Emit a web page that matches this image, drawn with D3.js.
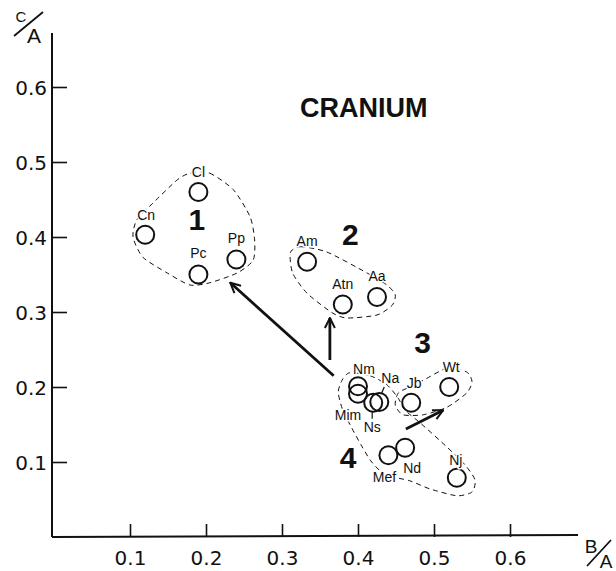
<!DOCTYPE html>
<html>
<head>
  <title>Cranium C/A vs B/A</title>
  <style>
    body { margin: 0; background: white; }
    svg { display: block; }
  </style>
</head>
<body>
  <svg width="616" height="571"></svg>

  <script src="https://d3js.org/d3.v7.min.js"></script>
  <script>
    // point data: B/A (x) and C/A (y)
    const names = ["Cn", "Cl", "Pc", "Pp", "Am", "Atn", "Aa", "Nm", "Mim", "Ns", "Na", "Jb", "Wt", "Mef", "Nd", "Nj"];
    const ba = [0.12, 0.19, 0.19, 0.24, 0.333, 0.38, 0.425, 0.40, 0.40, 0.42, 0.428, 0.47, 0.52, 0.44, 0.462, 0.53];
    const ca = [0.403, 0.46, 0.35, 0.37, 0.367, 0.31, 0.32, 0.201, 0.191, 0.179, 0.18, 0.179, 0.20, 0.109, 0.119, 0.079];
    const xTicks = [0.1, 0.2, 0.3, 0.4, 0.5, 0.6];
    const yTicks = [0.1, 0.2, 0.3, 0.4, 0.5, 0.6];

    // dashed group outlines, in data units
    const group1 = [[0.179,0.485],[0.205,0.485],[0.236,0.463],[0.258,0.427],[0.264,0.396],[0.262,0.369],[0.241,0.352],[0.205,0.339],[0.179,0.336],[0.149,0.352],[0.117,0.373],[0.104,0.40],[0.109,0.423],[0.130,0.445],[0.162,0.476]];
    const group2 = [[0.311,0.379],[0.324,0.387],[0.359,0.380],[0.412,0.352],[0.438,0.336],[0.449,0.323],[0.445,0.309],[0.425,0.296],[0.386,0.292],[0.366,0.299],[0.333,0.325],[0.314,0.352]];
    const group3 = [[0.486,0.209],[0.517,0.225],[0.543,0.220],[0.550,0.207],[0.543,0.192],[0.517,0.173],[0.486,0.163],[0.459,0.163],[0.449,0.176],[0.453,0.192],[0.468,0.200]];
    const group4 = [[0.389,0.219],[0.416,0.215],[0.438,0.203],[0.453,0.185],[0.462,0.169],[0.482,0.152],[0.517,0.120],[0.541,0.096],[0.554,0.076],[0.550,0.060],[0.530,0.055],[0.495,0.064],[0.468,0.075],[0.436,0.083],[0.418,0.100],[0.405,0.121],[0.392,0.145],[0.380,0.169],[0.374,0.193],[0.379,0.209]];
    const groupNames = ["1", "2", "3", "4"];
    const groupLabelAt = [[0.188, 0.41], [0.39, 0.39], [0.485, 0.245], [0.387, 0.092]];

    // arrows [from, to] in data units
    const arrows = [
      [[0.368, 0.215], [0.232, 0.339]],
      [[0.363, 0.236], [0.363, 0.292]],
      [[0.463, 0.144], [0.512, 0.169]]
    ];

    // label placement (pixel offsets from the circle centre)
    const labelOffset = {
      Cn: [1, -15], Cl: [0, -15], Pc: [0, -17], Pp: [0, -17], Am: [0, -16],
      Atn: [0, -16], Aa: [0, -16], Nm: [6, -12], Mim: [-10, 26], Ns: [-1, 29],
      Na: [11, -19], Jb: [3, -15], Wt: [2, -15], Mef: [-4, 27], Nd: [7, 25], Nj: [-1, -13]
    };

    const svg = d3.select("svg");
    const x = d3.scaleLinear().domain([0, 0.7]).range([54, 586]);
    const y = d3.scaleLinear().domain([0, 0.7]).range([537, 12]);
    const ink = "#111";
    const font = "DejaVu Sans, sans-serif";
    const sans = "Liberation Sans, sans-serif";

    // axes
    svg.append("line").attr("x1", 52).attr("x2", 52).attr("y1", 33).attr("y2", 537)
      .attr("stroke", ink).attr("stroke-width", 2);
    svg.append("line").attr("x1", 52).attr("x2", 578).attr("y1", 537).attr("y2", 535)
      .attr("stroke", ink).attr("stroke-width", 2);

    const yAxis = svg.append("g").attr("transform", "translate(52,0)")
      .call(d3.axisLeft(y).tickValues(yTicks).tickSizeInner(-15).tickSizeOuter(0).tickPadding(5).tickFormat(d3.format(".1f")));
    const xAxis = svg.append("g").attr("transform", "translate(0,537)")
      .call(d3.axisBottom(x).tickValues(xTicks).tickSizeInner(-13).tickSizeOuter(0).tickPadding(14).tickFormat(d3.format(".1f")));
    [xAxis, yAxis].forEach(g => {
      g.select(".domain").remove();
      g.selectAll(".tick line").attr("stroke", ink).attr("stroke-width", 1.6);
      g.selectAll(".tick text").attr("fill", ink).style("font-family", font).style("font-size", "20px");
    });
    yAxis.selectAll(".tick text").attr("dy", "0.36em");

    // axis titles C/A and B/A
    function ratio(top, bottom, t, s, b, size) {
      svg.append("text").attr("x", t[0]).attr("y", t[1]).attr("text-anchor", "middle").text(top)
        .style("font-family", sans).style("font-size", size[0] + "px").attr("fill", ink);
      svg.append("line").attr("x1", s[0]).attr("y1", s[1]).attr("x2", s[2]).attr("y2", s[3])
        .attr("stroke", ink).attr("stroke-width", 1.8);
      svg.append("text").attr("x", b[0]).attr("y", b[1]).attr("text-anchor", "middle").text(bottom)
        .style("font-family", sans).style("font-size", size[1] + "px").attr("fill", ink);
    }
    ratio("C", "A", [21, 22], [14, 36, 43, 12], [34, 43], [15, 21]);
    ratio("B", "A", [591, 553], [587, 566, 611, 540], [606, 568], [19, 19]);

    // title
    svg.append("text").attr("x", 300).attr("y", 117).text("CRANIUM")
      .style("font-family", sans).style("font-size", "27px").style("font-weight", "bold").attr("fill", ink);

    // group outlines
    const outline = d3.line().x(d => x(d[0])).y(d => y(d[1])).curve(d3.curveCardinalClosed.tension(0.3));
    svg.selectAll(".group").data([group1, group2, group3, group4]).join("path")
      .attr("class", "group").attr("d", outline).attr("fill", "none")
      .attr("stroke", ink).attr("stroke-width", 1).attr("stroke-dasharray", "5,4");

    // arrows
    const defs = svg.append("defs");
    defs.append("marker").attr("id", "head").attr("viewBox", "0 0 12 12")
      .attr("refX", 11).attr("refY", 6).attr("markerWidth", 12).attr("markerHeight", 12)
      .attr("markerUnits", "userSpaceOnUse").attr("orient", "auto")
      .append("path").attr("d", "M1,1 L11,6 L1,11").attr("fill", "none").attr("stroke", ink).attr("stroke-width", 2);
    svg.selectAll(".arrow").data(arrows).join("line").attr("class", "arrow")
      .attr("x1", d => x(d[0][0])).attr("y1", d => y(d[0][1]))
      .attr("x2", d => x(d[1][0])).attr("y2", d => y(d[1][1]))
      .attr("stroke", ink).attr("stroke-width", 2.8).attr("marker-end", "url(#head)");

    // points
    const points = names.map((n, i) => ({ name: n, bx: ba[i], cy: ca[i] }));
    svg.selectAll(".pt").data(points).join("circle").attr("class", "pt")
      .attr("cx", d => x(d.bx)).attr("cy", d => y(d.cy)).attr("r", 9)
      .attr("fill", "none").attr("stroke", ink).attr("stroke-width", 2);

    // leader ticks for Na and Ns
    svg.append("line").attr("x1", x(0.428) + 5).attr("y1", y(0.18) - 15).attr("x2", x(0.428) + 2).attr("y2", y(0.18) - 8)
      .attr("stroke", ink).attr("stroke-width", 1.2);
    svg.append("line").attr("x1", x(0.42) - 1).attr("y1", y(0.179) + 9).attr("x2", x(0.42) - 1).attr("y2", y(0.179) + 16)
      .attr("stroke", ink).attr("stroke-width", 1.2);

    // point labels, with a white halo that breaks the dashed lines
    svg.selectAll(".lbl").data(points).join("text").attr("class", "lbl")
      .attr("x", d => x(d.bx) + labelOffset[d.name][0])
      .attr("y", d => y(d.cy) + labelOffset[d.name][1])
      .attr("text-anchor", "middle").text(d => d.name)
      .style("font-family", sans).style("font-size", "14px")
      .attr("fill", ink).attr("stroke", "white").attr("stroke-width", 3).style("paint-order", "stroke");

    // group numbers
    svg.selectAll(".gnum").data(groupNames).join("text").attr("class", "gnum")
      .attr("x", (d, i) => x(groupLabelAt[i][0])).attr("y", (d, i) => y(groupLabelAt[i][1]))
      .attr("text-anchor", "middle").text(d => d)
      .style("font-family", sans).style("font-size", "30px").style("font-weight", "bold")
      .attr("fill", ink);
  </script>
</body>
</html>
